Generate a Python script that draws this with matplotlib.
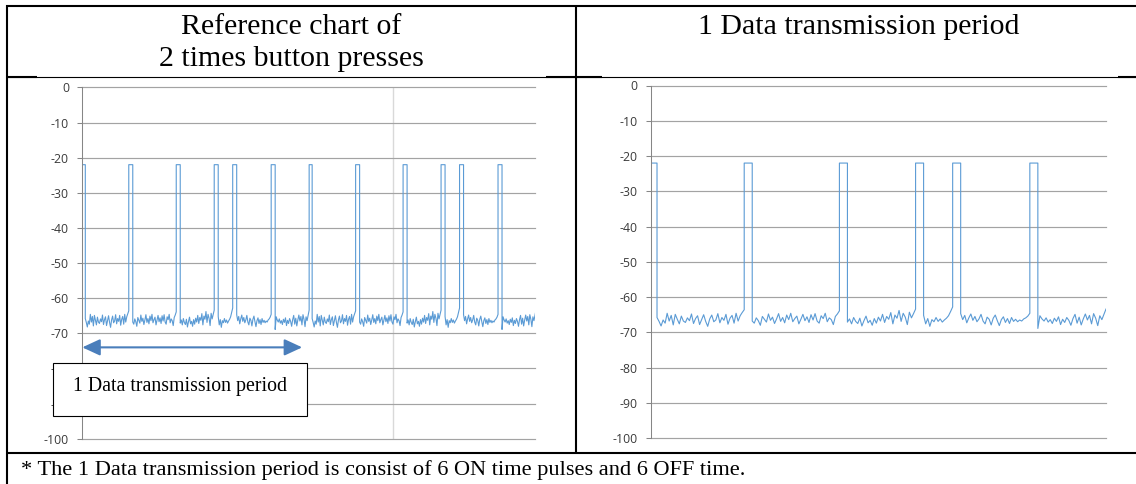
import numpy as np
import matplotlib.pyplot as plt
from matplotlib.patches import Rectangle
from matplotlib.lines import Line2D

plt.rcParams['axes.unicode_minus'] = False

W, H = 1136, 484

# signal: one data transmission period (x in samples, y in dBm)
on_level = -22
pulse_start = [0, 93, 188, 264, 301, 378]
pulse_end = [6, 101, 196, 272, 309, 386]
period_len = 454

floor_1 = [-65.8, -66.9, -68.2, -66.5, -67.4, -64.6, -66.8, -65.2, -67.9, -64.9, -66.3,
           -67.6, -65.4, -66.8, -67.2, -65.9, -66.7, -64.8, -67.5, -66.1, -65.3, -67.8,
           -66.4, -65.0, -66.9, -68.3, -66.2, -65.1, -67.0, -66.5, -64.7, -67.3, -65.8,
           -66.6, -64.9, -67.7, -66.0, -65.2, -67.4, -64.6, -66.8, -65.3, -64.4, -63.6]
floor_2 = [-66.8, -67.4, -65.9, -66.7, -68.0, -65.5, -66.3, -67.1, -64.8, -66.6, -65.7,
           -67.5, -66.2, -64.7, -66.9, -65.8, -67.3, -65.1, -66.4, -64.6, -67.0, -66.1,
           -65.4, -67.6, -66.3, -64.9, -66.7, -65.6, -67.2, -65.0, -66.5, -64.7, -66.8,
           -67.4, -65.3, -66.1, -64.6, -67.0, -65.9, -66.4, -67.8, -65.5, -64.8, -63.9]
floor_3 = [-67.1, -66.2, -67.6, -65.8, -66.9, -67.5, -66.0, -68.2, -66.7, -65.4, -67.3,
           -66.6, -68.0, -66.1, -67.4, -65.7, -66.8, -64.9, -67.2, -65.5, -66.3, -64.4,
           -67.6, -65.1, -66.0, -63.8, -66.9, -64.6, -65.7, -67.8, -64.3, -65.9, -64.7, -63.4]
floor_4 = [-65.2, -67.6, -66.1, -68.3, -66.4, -67.0, -65.8, -66.9, -66.2, -67.1, -66.5,
           -66.0, -65.3, -64.1, -62.8]
floor_5 = [-64.7, -66.4, -65.2, -67.3, -65.9, -64.8, -66.6, -65.5, -67.0, -66.2, -64.9,
           -66.8, -67.6, -65.7, -66.3, -67.9, -66.0, -65.1, -66.7, -68.1, -66.4, -65.6,
           -67.2, -66.1, -67.5, -65.8, -66.9, -66.3, -67.0, -66.5, -66.8, -66.2, -65.9,
           -65.4, -64.6]
floor_6 = [-68.9, -65.3, -66.2, -66.8, -65.9, -67.1, -66.4, -67.5, -66.0, -66.9, -65.6,
           -67.8, -66.3, -67.2, -65.8, -66.6, -68.0, -66.1, -64.9, -67.4, -65.7, -67.9,
           -66.2, -64.8, -66.5, -65.2, -67.6, -64.7, -66.0, -68.1, -65.3, -66.4, -64.9, -63.4]
floors = [floor_1, floor_2, floor_3, floor_4, floor_5, floor_6]

yticks = list(range(0, -101, -10))
left_vgrid = [621]
arrow_end = 440
arrow_y = -74

header_left = 'Reference chart of\n2 times button presses'
header_right = '1 Data transmission period'
box_text = '1 Data transmission period'
footnote = '* The 1 Data transmission period is consist of 6 ON time pulses and 6 OFF time.'


def one_period():
    xs, ys = [], []
    gap_ends = pulse_start[1:] + [period_len]
    for s, e, fl, g in zip(pulse_start, pulse_end, floors, gap_ends):
        xs += [s, e]
        ys += [on_level, on_level]
        xs += list(np.linspace(e, g, len(fl)))
        ys += fl
    return np.array(xs), np.array(ys)


x1, y1 = one_period()
x2 = np.concatenate([x1, x1 + period_len])
y2 = np.concatenate([y1, y1])


def fx(px):
    return px / W


def fy(py):
    return 1 - py / H


fig = plt.figure(figsize=(W / 100, H / 100), dpi=100)

serif = 'Liberation Serif'


def style(ax):
    ax.set_ylim(-100, 0)
    ax.set_yticks(yticks)
    for s in ['top', 'right', 'bottom']:
        ax.spines[s].set_visible(False)
    ax.spines['left'].set_color('#868686')
    ax.spines['left'].set_linewidth(0.75)
    ax.tick_params(axis='y', direction='out', length=3.6, width=0.75, color='#868686',
                   labelsize=8.8, labelcolor='#3a3a3a', pad=6)
    ax.tick_params(axis='x', length=0, labelbottom=False)
    for lab in ax.get_yticklabels():
        lab.set_fontfamily('Open Sans')
    ax.yaxis.grid(True, color='#a3a3a3', lw=0.85)
    for gl in ax.get_ygridlines():
        gl.set_clip_on(False)
    ax.set_axisbelow(True)


# left chart: 2 button presses
ax_l = fig.add_axes([fx(82.3), fy(438.7), (535 - 82.3) / W, (438.7 - 87.4) / H])
style(ax_l)
ax_l.set_xlim(0, 2 * period_len - 2)
ax_l.set_xticks(left_vgrid)
ax_l.xaxis.grid(True, color='#d9d9d9', lw=1.0)
ax_l.plot(x2, y2, color='#5b9bd5', lw=0.8)
ax_l.annotate('', xy=(arrow_end, arrow_y), xytext=(0, arrow_y),
              arrowprops=dict(arrowstyle='<|-|>,head_length=1.08,head_width=0.5',
                              mutation_scale=10, lw=1.5, color='#4a7ebb',
                              shrinkA=0, shrinkB=0),
              annotation_clip=False)

# right chart: 1 period
ax_r = fig.add_axes([fx(651), fy(438.1), (1106 - 651) / W, (438.1 - 85.5) / H])
style(ax_r)
ax_r.set_xlim(0, period_len)
ax_r.set_xticks([])
ax_r.plot(x1, y1, color='#5b9bd5', lw=0.8)

# label box over the left chart
fig.add_artist(Rectangle((fx(53), fy(415.7)), (307 - 53) / W, (415.7 - 362.7) / H,
                         transform=fig.transFigure, facecolor='white',
                         edgecolor='black', lw=0.8, zorder=5))
fig.text(fx(180), fy(390.7), box_text, ha='center', va='baseline',
         fontsize=14.3, family=serif, zorder=6)


# table borders
def hline(x0, x1_, y, lw):
    fig.add_artist(Line2D([fx(x0), fx(x1_)], [fy(y), fy(y)], transform=fig.transFigure,
                          color='black', lw=lw, solid_capstyle='butt'))


def vline(x, y0, y1_, lw):
    fig.add_artist(Line2D([fx(x), fx(x)], [fy(y0), fy(y1_)], transform=fig.transFigure,
                          color='black', lw=lw, solid_capstyle='butt'))


hline(6, 1136, 5.5, 1.5)
hline(6, 1136, 76.5, 0.8)
hline(6, 37, 76.5, 1.5)
hline(546, 602, 76.5, 1.5)
hline(1118, 1136, 76.5, 1.5)
hline(6, 1136, 452.5, 1.5)
vline(7, 5, 484, 1.5)
vline(576, 5, 452.5, 1.5)

# headers and footnote
l1, l2 = header_left.split('\n')
fig.text(fx(291.5), fy(33.5), l1, ha='center', va='baseline', fontsize=21.5, family=serif)
fig.text(fx(291.5), fy(66.5), l2, ha='center', va='baseline', fontsize=21.5, family=serif)
fig.text(fx(859), fy(33.5), header_right, ha='center', va='baseline', fontsize=21.5, family=serif)
fig.text(fx(21), fy(475.3), footnote, ha='left', va='baseline', fontsize=16.1, family=serif)

fig.savefig('out.png', dpi=100)
